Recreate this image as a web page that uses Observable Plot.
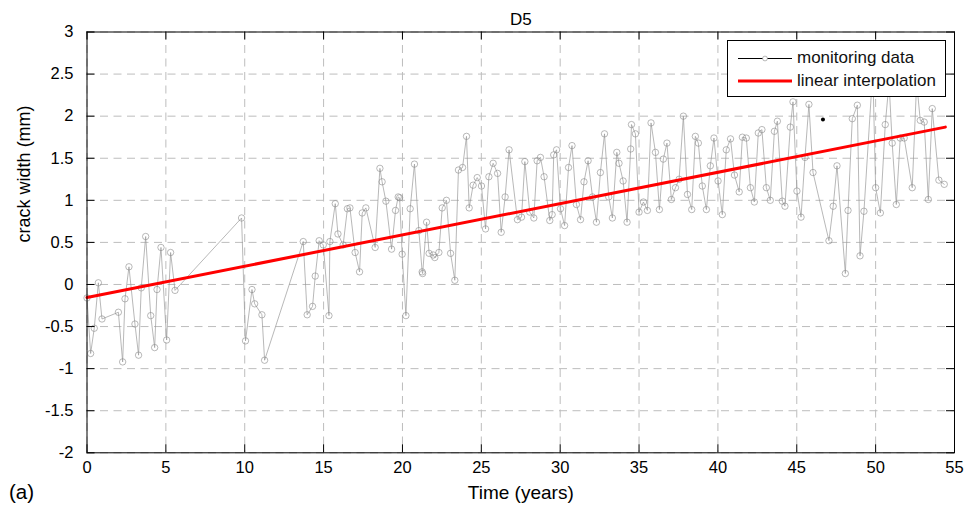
<!DOCTYPE html>
<html>
<head>
<meta charset="utf-8">
<script src="https://cdn.jsdelivr.net/npm/d3@7"></script>
<script src="https://cdn.jsdelivr.net/npm/@observablehq/plot@0.6"></script>
<style>
  html, body { margin: 0; padding: 0; background: #fff; }
  #wrap { position: relative; width: 967px; height: 517px; font-family: "Liberation Sans", Arial, sans-serif; }
  #legend { position: absolute; left: 727px; top: 40px; width: 219px; height: 57px; background: #fff; border: 1px solid #000; box-sizing: border-box; font-size: 17px; color: #111; }
  .row { position: absolute; left: 0; height: 20px; width: 100%; }
  .row span { position: absolute; left: 69px; top: 0px; white-space: nowrap; line-height: 20px; }
  .sample { position: absolute; left: 10px; width: 54px; }
</style>
</head>
<body>
<div id="wrap"></div>
<script>
// ---- data ----
const time = [0.00,0.23,0.46,0.72,0.95,1.99,2.26,2.41,2.66,3.04,3.27,3.44,3.72,4.04,4.29,4.44,4.69,5.05,5.30,5.58,
  9.80,10.05,10.46,10.63,11.09,11.26,
  13.71,13.96,14.30,14.47,14.72,14.98,15.34,15.40,15.74,15.91,16.24,16.51,16.67,17.00,17.28,17.45,17.68,18.27,18.57,18.71,18.95,19.31,19.56,19.73,19.82,19.98,
  20.22,20.49,20.76,21.04,21.25,21.28,21.53,21.69,21.95,22.05,22.31,22.52,22.79,23.05,23.32,23.55,23.81,24.06,24.23,24.48,24.74,
  25.01,25.27,25.48,25.75,26.03,26.26,26.51,26.76,27.29,27.55,27.76,28.07,28.33,28.54,28.75,28.98,29.34,29.49,29.59,29.77,
  30.02,30.28,30.53,30.75,31.03,31.29,31.51,31.77,32.05,32.30,32.55,32.81,33.08,33.31,33.59,33.73,33.99,34.24,34.47,34.52,34.77,
  35.00,35.28,35.53,35.76,36.04,36.29,36.54,36.77,37.05,37.31,37.54,37.81,38.07,38.34,38.57,38.76,39.01,39.27,39.52,39.75,
  40.01,40.28,40.53,40.80,41.05,41.35,41.55,41.80,42.06,42.31,42.56,42.79,43.07,43.32,43.58,43.77,44.08,44.25,44.59,44.76,
  45.01,45.27,45.52,45.77,46.03,47.04,47.31,47.55,48.08,48.25,48.52,48.84,49.01,49.26,49.82,
  50.00,50.30,50.61,50.85,51.05,51.31,51.56,51.81,52.32,52.60,52.83,53.08,53.34,53.59,54.01,54.35];
const crack = [-0.16,-0.82,-0.52,0.02,-0.41,-0.33,-0.92,-0.17,0.21,-0.47,-0.84,-0.04,0.57,-0.37,-0.75,-0.06,0.44,-0.66,0.38,-0.07,
  0.79,-0.67,-0.06,-0.23,-0.36,-0.90,
  0.51,-0.36,-0.26,0.10,0.52,0.47,-0.37,0.51,0.96,0.60,0.47,0.90,0.91,0.38,0.15,0.85,0.91,0.44,1.38,1.22,0.99,0.42,0.88,1.04,1.03,0.36,
  -0.37,0.90,1.43,0.64,0.15,0.13,0.74,0.37,0.35,0.32,0.38,0.91,1.00,0.37,0.05,1.36,1.39,1.76,0.91,1.18,1.27,
  1.17,0.66,1.28,1.44,1.32,0.62,1.04,1.60,0.77,0.80,1.46,0.86,0.79,1.47,1.51,1.28,0.76,0.83,1.54,1.60,
  0.90,0.70,1.39,1.65,0.95,0.77,1.22,1.47,1.04,0.74,1.33,1.79,1.04,0.79,1.57,1.44,1.23,0.74,1.61,1.90,1.79,
  0.86,0.98,0.88,1.92,1.57,0.89,1.49,1.68,1.01,1.15,1.25,2.00,1.07,0.89,1.76,1.68,1.17,0.89,1.41,1.74,
  1.23,0.83,1.60,1.73,1.30,1.10,1.75,1.74,1.15,0.98,1.80,1.84,1.15,1.00,1.82,1.94,0.99,0.93,1.87,2.17,
  1.11,0.80,1.51,2.14,1.33,0.52,0.93,1.41,0.13,0.88,1.97,2.13,0.34,0.87,2.55,
  1.15,0.85,1.90,2.40,1.68,0.95,1.74,1.74,1.15,2.40,1.95,1.93,1.01,2.09,1.24,1.19];
const fitTime = [0, 54.42];
const fitCrack = [-0.155, 1.87];
const markTime = [46.66];
const markCrack = [1.96];
const xTicks = [0,5,10,15,20,25,30,35,40,45,50,55];
const yTicks = [-2,-1.5,-1,-0.5,0,0.5,1,1.5,2,2.5,3];
const title = "D5";
const xLabel = "Time (years)";
const yLabel = "crack width (mm)";
const panelTag = "(a)";
const legendLabels = ["monitoring data", "linear interpolation"];

const obs = time.map((t, i) => ({t, v: crack[i]}));
const fit = fitTime.map((t, i) => ({t, v: fitCrack[i]}));
const mark = markTime.map((t, i) => ({t, v: markCrack[i]}));

const W = 967, H = 517, ML = 86.5, MR = 13, MT = 31.5, MB = 64.7;
const xDom = [0, 55], yDom = [-2, 3];
// inward tick length (8 px) expressed through the scales' extents
const tickLen = 8;
const dxTick = tickLen * (xDom[1] - xDom[0]) / (W - ML - MR);
const dyTick = tickLen * (yDom[1] - yDom[0]) / (H - MT - MB);

const fmt = d => String(d);
const chart = Plot.plot({
  width: W, height: H,
  marginLeft: ML, marginRight: MR, marginTop: MT, marginBottom: MB,
  style: {fontFamily: '"Liberation Sans", Arial, sans-serif', fontSize: "16.5px", color: "#000", background: "transparent"},
  x: {domain: xDom, label: null},
  y: {domain: yDom, label: null},
  marks: [
    Plot.gridX(xTicks, {stroke: "#bdbdbd", strokeOpacity: 1, strokeDasharray: "8,5.5"}),
    Plot.gridY(yTicks, {stroke: "#bdbdbd", strokeOpacity: 1, strokeDasharray: "8,5.5"}),
    Plot.line(obs, {x: "t", y: "v", stroke: "#9a9a9a", strokeWidth: 0.7}),
    Plot.dot(obs, {x: "t", y: "v", r: 3.2, stroke: "#8a8a8a", strokeWidth: 0.6, fill: "none"}),
    Plot.line(fit, {x: "t", y: "v", stroke: "#ff0000", strokeWidth: 3}),
    Plot.dot(mark, {x: "t", y: "v", r: 2, fill: "#000", stroke: "none"}),
    // inward tick marks on all four sides
    Plot.ruleX(xTicks, {x: d => d, y1: yDom[0], y2: yDom[0] + dyTick, stroke: "#000"}),
    Plot.ruleX(xTicks, {x: d => d, y1: yDom[1], y2: yDom[1] - dyTick, stroke: "#000"}),
    Plot.ruleY(yTicks, {y: d => d, x1: xDom[0], x2: xDom[0] + dxTick, stroke: "#000"}),
    Plot.ruleY(yTicks, {y: d => d, x1: xDom[1], x2: xDom[1] - dxTick, stroke: "#000"}),
    Plot.frame({stroke: "#000", strokeWidth: 1}),
    Plot.axisX(xTicks, {anchor: "bottom", tickSize: 0, tickPadding: 8, tickFormat: fmt, fontSize: 16.5}),
    Plot.axisY(yTicks, {anchor: "left", tickSize: 0, tickPadding: 13.5, tickFormat: fmt, fontSize: 16.5}),
    Plot.text([title], {frameAnchor: "top", dy: -19.5, fontSize: 17}),
    Plot.text([xLabel], {frameAnchor: "bottom", dy: 46, fontSize: 19}),
    Plot.text([yLabel], {frameAnchor: "left", dx: -63, rotate: -90, fontSize: 18}),
    Plot.text([panelTag], {frameAnchor: "bottom-left", dx: -78, dy: 46, textAnchor: "start", fontSize: 20.5})
  ]
});
const wrap = document.getElementById("wrap");
wrap.appendChild(chart);

// legend (overlay box inside the axes, like the original)
const lg = document.createElement("div");
lg.id = "legend";
lg.innerHTML = `
  <div class="row" style="top:7px">
    <svg class="sample" height="20" style="top:0"><line x1="0" x2="54" y1="10.5" y2="10.5" stroke="#000" stroke-width="1"/><circle cx="27" cy="10.5" r="2.4" fill="#fff" stroke="#8a8a8a" stroke-width="0.6"/></svg>
    <span>${legendLabels[0]}</span>
  </div>
  <div class="row" style="top:30px">
    <svg class="sample" height="20" style="top:0"><line x1="0" x2="54" y1="10" y2="10" stroke="#ff0000" stroke-width="3"/></svg>
    <span>${legendLabels[1]}</span>
  </div>`;
wrap.appendChild(lg);
</script>
</body>
</html>
